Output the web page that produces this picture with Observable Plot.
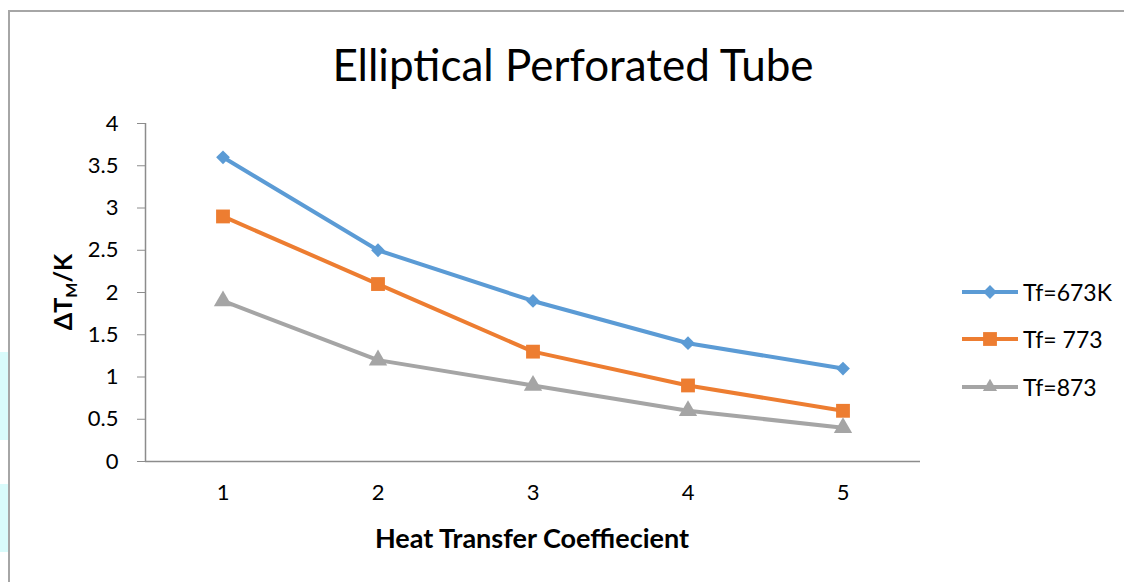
<!DOCTYPE html>
<html>
<head>
<meta charset="utf-8">
<script src="https://cdn.jsdelivr.net/npm/d3@7"></script>
<script src="https://cdn.jsdelivr.net/npm/@observablehq/plot@0.6"></script>
<style>
  html, body { margin: 0; padding: 0; background: #fff; }
  #wrap { position: relative; width: 1124px; height: 582px; overflow: hidden; font-family: Lato, "Open Sans", sans-serif; color: #000; }
  #frame { position: absolute; left: 8px; top: 10px; width: 1130px; height: 600px; border-left: 2px solid #a6a6a6; border-top: 2px solid #a6a6a6; box-sizing: border-box; }
  .strip { position: absolute; left: 0; width: 8px; background: #d9fbfb; }
  #title { position: absolute; left: 0; width: 1146px; top: 37px; text-align: center; font-size: 44px; line-height: 54px; }
  #plot { position: absolute; left: 0; top: 100px; }
  #ylab { position: absolute; left: 63px; top: 292px; transform: translate(-50%, -50%) rotate(-90deg); font-weight: bold; font-size: 25px; white-space: nowrap; }
  #ylab sub { font-size: 16px; vertical-align: -5px; }
  #xlab { position: absolute; left: 532px; top: 537px; transform: translate(-50%, -50%); font-weight: bold; font-size: 27px; white-space: nowrap; }
  #legend { position: absolute; left: 960px; top: 268px; }
  .item { display: flex; align-items: center; height: 47.5px; font-size: 23px; }
  .item svg { margin-right: 1px; }
</style>
</head>
<body>
<div id="wrap">
  <div class="strip" style="top:352px;height:88px"></div>
  <div class="strip" style="top:484px;height:68px"></div>
  <div id="frame"></div>
  <div id="title">Elliptical Perforated Tube</div>
  <div id="plot"></div>
  <div id="ylab">ΔT<sub>M</sub>/K</div>
  <div id="xlab">Heat Transfer Coeffiecient</div>
  <div id="legend"></div>
</div>
<script>
const coefficients = [1, 2, 3, 4, 5];
const seriesNames = ["Tf=673K", "Tf= 773", "Tf=873"];
const tf673 = [3.6, 2.5, 1.9, 1.4, 1.1];
const tf773 = [2.9, 2.1, 1.3, 0.9, 0.6];
const tf873 = [1.9, 1.2, 0.9, 0.6, 0.4];
const yTicks = [0, 0.5, 1, 1.5, 2, 2.5, 3, 3.5, 4];
const colors = ["#5b9bd5", "#ed7d31", "#a5a5a5"];
const symbols = ["diamond2", "square", "triangle"];
const symbolR = [6.2, 7.8, 6.8];

const valuesBySeries = [tf673, tf773, tf873];
const data = [];
seriesNames.forEach((s, i) => coefficients.forEach((c, j) => data.push({series: s, x: c, y: valuesBySeries[i][j]})));

const marks = [
  Plot.ruleY([0], {stroke: "#8c8c8c", strokeWidth: 1.5}),
  Plot.ruleX([0.5], {y1: 0, y2: 4, stroke: "#8c8c8c", strokeWidth: 1.5}),
  Plot.axisY({ticks: yTicks, tickFormat: d => String(d), tickSize: 8, tickPadding: 19, stroke: "#8c8c8c", fontSize: 22, label: null}),
  Plot.axisX({ticks: coefficients, tickFormat: d => String(d), tickSize: 0, tickPadding: 23, fontSize: 22, label: null})
];
seriesNames.forEach((s, i) => {
  const d = data.filter(r => r.series === s);
  marks.push(Plot.line(d, {x: "x", y: "y", stroke: colors[i], strokeWidth: 4}));
  marks.push(Plot.dot(d, {x: "x", y: "y", symbol: () => symbols[i], fill: colors[i], stroke: "none", r: symbolR[i]}));
});

const chart = Plot.plot({
  width: 1124,
  height: 470,
  marginLeft: 145,
  marginRight: 204,
  marginTop: 23,
  marginBottom: 109,
  style: {fontFamily: "Lato, 'Open Sans', sans-serif", fontSize: "22px", color: "#000", background: "transparent", overflow: "visible"},
  x: {domain: [0.5, 5.5], axis: null},
  y: {domain: [0, 4], axis: null},
  symbol: {type: "identity"},
  marks
});
document.getElementById("plot").appendChild(chart);

const legend = document.getElementById("legend");
seriesNames.forEach((s, i) => {
  const item = document.createElement("div");
  item.className = "item";
  const sz = 62, h = 20;
  const svg = d3.create("svg").attr("width", sz).attr("height", h);
  svg.append("line").attr("x1", 2).attr("x2", sz - 4).attr("y1", h / 2).attr("y2", h / 2).attr("stroke", colors[i]).attr("stroke-width", 4);
  const symType = [d3.symbolDiamond2, d3.symbolSquare, d3.symbolTriangle2][i];
  svg.append("path").attr("transform", `translate(${(sz - 2) / 2},${h / 2})`)
    .attr("d", d3.symbol(symType, Math.PI * symbolR[i] * symbolR[i])()).attr("fill", colors[i]);
  item.appendChild(svg.node());
  const t = document.createElement("span");
  t.textContent = s;
  item.appendChild(t);
  legend.appendChild(item);
});
</script>
</body>
</html>
